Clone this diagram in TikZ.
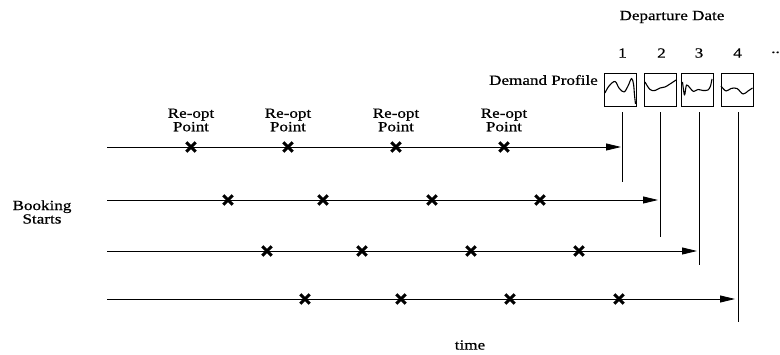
\documentclass[tikz,border=0pt]{standalone}
\usepackage{fontspec}
\setmainfont{Liberation Serif}[FakeStretch=1.22, FakeBold=0.6]
\usetikzlibrary{arrows.meta}
\begin{document}
\begin{tikzpicture}[x=1pt,y=-1pt,
  lbl/.style={font=\fontsize{14}{13.5}\selectfont, inner sep=0pt, align=center},
  xmark/.style={minimum size=9pt, inner sep=0pt},
  xstroke/.style={line width=3pt},
  row/.style={line width=0.8pt, -{Triangle[length=15pt,width=7pt]}},
  dline/.style={line width=0.8pt},
  pbox/.style={draw, line width=0.9pt, minimum width=32pt, minimum height=33pt, inner sep=0pt},
  prof/.style={line width=1.1pt, line join=round}]
\useasboundingbox (0,0) rectangle (780,355);

% texts
\node[lbl] (dep) at (672,17) {Departure Date};
\node[lbl, anchor=east] (dem) at (598,80) {Demand Profile};
\node[lbl] (book) at (42,212) {Booking\\Starts};
\node[lbl] (time) at (470,345) {time};
\node[lbl, anchor=base east] (dots) at (780,53) {..};

% numbers
\node[lbl] (n1) at (622.5,53) {1};
\node[lbl] (n2) at (661.5,53) {2};
\node[lbl] (n3) at (699,53) {3};
\node[lbl] (n4) at (737.5,53) {4};

% profile boxes
\node[pbox] (b1) at (620.5,89.5) {};
\node[pbox] (b2) at (660,89.5) {};
\node[pbox] (b3) at (697.5,89.5) {};
\node[pbox] (b4) at (737,89.5) {};
\draw[prof] plot[smooth, tension=0.6] coordinates {(605,93) (609,86) (615,81.5) (619,88) (624,92) (628,86) (631.5,78.5) (633.5,84) (634.5,95) (635.5,104)};
\draw[prof] plot[smooth, tension=0.6] coordinates {(645,82) (650,89.5) (655,90.5) (660,88) (665,87) (670,84) (676,80)};
\draw[prof] plot[smooth, tension=0.5] coordinates {(682.5,82) (684.5,95) (686.5,85) (690,88) (693.5,91.5) (698,89.5) (703,90.5) (708,90) (710.5,86) (712,79)};
\draw[prof] plot[smooth, tension=0.6] coordinates {(721,86) (726,91) (731,88.5) (737,88.5) (743,94) (748,91) (752.5,88)};

% row coordinates
\coordinate (s1) at (107,147);
\coordinate (e1) at (621,147);
\coordinate (s2) at (107,200);
\coordinate (e2) at (658,200);
\coordinate (s3) at (107,251);
\coordinate (e3) at (697,251);
\coordinate (s4) at (107,299);
\coordinate (e4) at (735,299);

% vertical departure lines
\coordinate (v1) at (622.5,182);
\coordinate (v2) at (660,237);
\coordinate (v3) at (699,265);
\coordinate (v4) at (738,322);
\draw[dline] (b1.south -| v1) ++(0,6) -- (v1);
\draw[dline] (b2.south -| v2) ++(0,6) -- (v2);
\draw[dline] (b3.south -| v3) ++(0,6) -- (v3);
\draw[dline] (b4.south -| v4) ++(0,6) -- (v4);

% rows
\draw[row] (s1) -- (e1);
\draw[row] (s2) -- (e2);
\draw[row] (s3) -- (e3);
\draw[row] (s4) -- (e4);

% re-opt marks
\foreach \i/\x in {1/191,2/288,3/396,4/504}{
  \node[xmark] (a\i) at (\x,147) {};
  \node[lbl] (l\i) at (\x,120) {Re-opt\\Point};
}
\foreach \i/\x in {1/228,2/323,3/432,4/540}{
  \node[xmark] (b\i x) at (\x,200) {};
}
\foreach \i/\x in {1/267,2/362,3/471,4/579}{
  \node[xmark] (c\i) at (\x,251) {};
}
\foreach \i/\x in {1/305,2/401,3/510,4/619}{
  \node[xmark] (d\i) at (\x,299) {};
}
\foreach \n in {a1,a2,a3,a4,b1x,b2x,b3x,b4x,c1,c2,c3,c4,d1,d2,d3,d4}{
  \draw[xstroke] (\n.north west) -- (\n.south east) (\n.north east) -- (\n.south west);
}
\end{tikzpicture}
\end{document}
